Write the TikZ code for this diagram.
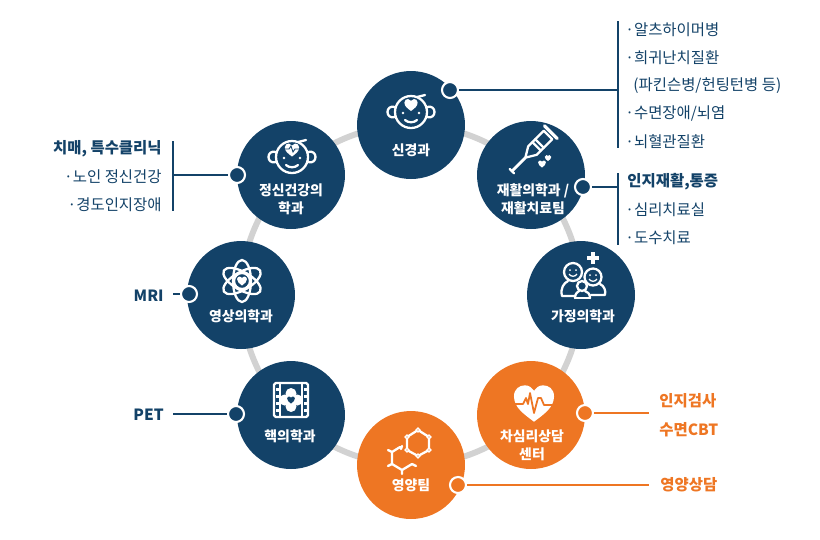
\documentclass[tikz,border=0pt]{standalone}
\usepackage{fontspec}
\setmainfont{Noto Sans CJK KR}
\definecolor{navy}{HTML}{134268}
\definecolor{tangerine}{HTML}{EE7623}
\definecolor{ringgray}{HTML}{D2D2D2}
\tikzset{
  dept/.style = {circle, minimum size = 2.16cm, inner sep = 0pt},
  navydept/.style = {dept, fill = navy},
  orangedept/.style = {dept, fill = tangerine},
  deptlabel/.style = {text = white, align = center, font = \fontsize{7.9}{10.2}\selectfont\bfseries, inner sep = 0pt},
  navydot/.style = {circle, minimum size = 0.32cm, inner sep = 0pt, draw = white, line width = 1.2pt, fill = navy},
  orangedot/.style = {navydot, fill = tangerine},
  navyline/.style = {draw = navy, line width = 1.15pt},
  orangeline/.style = {draw = tangerine, line width = 1.15pt},
  item/.style = {text = navy, inner sep = 0pt, anchor = west, font = \fontsize{8.8}{10}\selectfont},
  leftitem/.style = {item, anchor = east},
  bolditem/.style = {font = \fontsize{8.8}{10}\selectfont\bfseries},
  orangeitem/.style = {item, text = tangerine, font = \fontsize{8.8}{10}\selectfont\bfseries},
  icon/.style = {draw = white, line width = 1.3pt, line cap = round, line join = round},
  heartshape/.pic = {
    \path[pic actions] (0,1) .. controls (-.6,.55) and (-1.1,.2) .. (-1.1,-.4)
      .. controls (-1.1,-.8) and (-.8,-1) .. (-.5,-1)
      .. controls (-.25,-1) and (-.1,-.85) .. (0,-.7)
      .. controls (.1,-.85) and (.25,-1) .. (.5,-1)
      .. controls (.8,-1) and (1.1,-.8) .. (1.1,-.4)
      .. controls (1.1,.2) and (.6,.55) .. (0,1) -- cycle;
  },
  faceicon/.pic = {
    \draw[icon] (0,0) circle [radius = 16];
    \draw[icon] (-16,-5) .. controls (-26,-8) and (-26,8) .. (-16,5);
    \draw[icon] (16,-5) .. controls (26,-8) and (26,8) .. (16,5);
    \draw[icon] (-6,8) .. controls (-3,11) and (3,11) .. (6,8);
    \draw[icon] (6,-15) -- (14,-17);
    \fill[white] (-8,1) circle [radius = 1.3];
    \fill[white] (8,1) circle [radius = 1.3];
  }
}
\begin{document}
\begin{tikzpicture}[x = 0.02cm, y = -0.02cm]
\useasboundingbox (0,0) rectangle (820,539);
\coordinate (hub) at (411,295);
\draw[ringgray, line width = 3.4pt] (hub) circle [radius = 170];
% departments
\node[navydept] (neuro) at (411,125) {};
\node[navydept] (rehab) at (531,175) {};
\node[navydept] (family) at (581,295) {};
\node[orangedept] (psych) at (531,415) {};
\node[orangedept] (diet) at (411,465) {};
\node[navydept] (nuclear) at (291,415) {};
\node[navydept] (imaging) at (241,295) {};
\node[navydept] (mental) at (291,175) {};
\node[deptlabel] (neurolabel) at (411,150) {신경과};
\node[deptlabel] (rehablabel) at (533,199) {재활의학과 /\\재활치료팀};
\node[deptlabel] (familylabel) at (583,316) {가정의학과};
\node[deptlabel] (psychlabel) at (532,445) {차심리상담\\센터};
\node[deptlabel] (dietlabel) at (411,485) {영양팀};
\node[deptlabel] (nuclearlabel) at (290,436) {핵의학과};
\node[deptlabel] (imaginglabel) at (241,316) {영상의학과};
\node[deptlabel] (mentallabel) at (291,199) {정신건강의\\학과};
% icons
\pic at (411,112) {faceicon};
\pic[fill = white, scale = 6] at (411,105) {heartshape};
\pic at (292,157) {faceicon};
\pic[fill = white, scale = 6.5] at (292,150) {heartshape};
\draw[navy, line width = 0.5pt] (285,149) -- (289,149) -- (291,146) -- (293,152) -- (295,149) -- (299,149);
\begin{scope}[shift = {(531,152)}, rotate = 45]
\draw[icon, line width = 1.6pt] (-27,0) -- (-8,0);
\draw[icon] (-27,-3) -- (-27,3);
\draw[icon] (-8,0) -- (2,-6) -- (24,-6) -- (24,6) -- (2,6) -- cycle;
\draw[icon] (8,-6) -- (8,6) (12,-6) -- (12,6);
\draw[icon, line width = 1.8pt] (28,-9) -- (28,9);
\end{scope}
\pic[fill = white, scale = 3] at (548,158) {heartshape};
\pic[fill = white, scale = 3.5] at (542,164) {heartshape};
\draw[icon] (573,272) circle [radius = 9];
\draw[icon] (593,277) circle [radius = 8.5];
\draw[icon] (582,286) circle [radius = 5];
\draw[icon] (575,296) -- (562,296) .. controls (560,288) and (564,283) .. (568,281);
\draw[icon] (600,284) .. controls (604,286) and (606,290) .. (605,295) -- (591,295);
\draw[icon] (575,298) .. controls (575,293) and (578,292) .. (579,291);
\draw[icon] (590,298) .. controls (590,293) and (587,292) .. (585,291);
\draw[icon] (575,298) -- (590,298);
\draw[white, line width = 0.7pt] (569,274) .. controls (571,277) and (575,277) .. (577,274);
\draw[white, line width = 0.7pt] (589,279) .. controls (591,282) and (595,282) .. (597,279);
\fill[white] (570,270) circle [radius = 1] (576,270) circle [radius = 1] (590,275) circle [radius = 1] (596,275) circle [radius = 1];
\draw[white, line width = 2.6pt] (593,252) -- (593,264) (587,258) -- (599,258);
\draw[icon, rotate around = {30:(242,281)}] (242,281) ellipse [x radius = 21, y radius = 9];
\draw[icon, rotate around = {90:(242,281)}] (242,281) ellipse [x radius = 21, y radius = 9];
\draw[icon, rotate around = {150:(242,281)}] (242,281) ellipse [x radius = 21, y radius = 9];
\fill[navy] (242,281) circle [radius = 8];
\draw[icon] (242,281) circle [radius = 8];
\pic[fill = white, scale = 4.5] at (242,281) {heartshape};
\draw[icon, rounded corners = 1pt] (274,383) rectangle (308,417);
\draw[icon] (280,383) -- (280,417) (302,383) -- (302,417);
\foreach \yy in {388,395,402,409}{
  \fill[white] (275.5,\yy) rectangle +(3,3);
  \fill[white] (303.5,\yy) rectangle +(3,3);
}
\fill[white] (284.5,400) circle [radius = 5.5] (297.5,400) circle [radius = 5.5]
  (291,393.5) circle [radius = 5.5] (291,406.5) circle [radius = 5.5] (291,400) circle [radius = 6];
\pic[fill = navy, scale = 3.5] at (291,400) {heartshape};
\pic[fill = white, scale = 18.2] at (534,403.5) {heartshape};
\draw[tangerine, line width = 1pt, line join = round] (513,404) -- (523,404) -- (526,398) -- (528,404) -- (530,393) -- (534,413) -- (538,398) -- (541,398) -- (544,405) -- (556,405);
\draw[icon] (418,430) -- (429,437) -- (429,450) -- (418,456) -- (407,450) -- (407,437) -- cycle;
\foreach \xx/\yy in {418/430, 429/437, 429/450, 418/456, 407/450, 407/437}{
  \filldraw[fill = tangerine, draw = white, line width = 0.8pt] (\xx,\yy) circle [radius = 1.8];
}
\draw[icon] (392,452) -- (392,464) -- (402,470) -- (412,464);
\draw[icon] (388,450) -- (392,452) -- (400,447) (402,446) -- (401,449)
  (388,466) -- (392,464) (402,470) -- (402,474) (412,464) -- (416,466);
% dots
\node[navydot] (neurodot) at (450,90) {};
\node[navydot] (rehabdot) at (583,187) {};
\node[navydot] (mentaldot) at (237,175) {};
\node[navydot] (imagingdot) at (189,294) {};
\node[navydot] (nucleardot) at (236,414) {};
\node[orangedot] (psychdot) at (585,413) {};
\node[orangedot] (dietdot) at (458,485) {};
% connectors
\coordinate (neurojoint) at (618,90);
\coordinate (neurotop) at (618,21);
\coordinate (neurobottom) at (618,148);
\coordinate (rehabjoint) at (618,187);
\coordinate (rehabtop) at (618,173);
\coordinate (rehabbottom) at (618,245);
\coordinate (mentaljoint) at (173,175);
\coordinate (mentaltop) at (173,141);
\coordinate (mentalbottom) at (173,211);
\coordinate (imagingend) at (173,294);
\coordinate (nuclearend) at (173,414);
\coordinate (psychend) at (649,413);
\coordinate (dietend) at (649,485);
\draw[navyline] (neurodot) -- (neurojoint);
\draw[navyline] (neurotop) -- (neurobottom);
\draw[navyline] (rehabdot) -- (rehabjoint);
\draw[navyline] (rehabtop) -- (rehabbottom);
\draw[navyline] (mentaldot) -- (mentaljoint);
\draw[navyline] (mentaltop) -- (mentalbottom);
\draw[navyline] (imagingdot) -- (imagingend);
\draw[navyline] (nucleardot) -- (nuclearend);
\draw[orangeline] (psychdot) -- (psychend);
\draw[orangeline] (dietdot) -- (dietend);
% lists
\node[item] (alz) at (625,29.5) {·알츠하이머병};
\node[item] (rare) at (625,57.5) {·희귀난치질환};
\node[item] (park) at (633,85.5) {(파킨슨병/헌팅턴병 등)};
\node[item] (sleep) at (625,113.5) {·수면장애/뇌염};
\node[item] (vessel) at (625,141.5) {·뇌혈관질환};
\node[item, bolditem] (cogn) at (627,181.5) {인지재활,통증};
\node[item] (thera) at (625,209.5) {·심리치료실};
\node[item] (manual) at (625,237.5) {·도수치료};
\node[leftitem, bolditem] (clinic) at (162,148.5) {치매, 특수클리닉};
\node[leftitem] (aged) at (162,176.5) {·노인 정신건강};
\node[leftitem] (mild) at (162,204.5) {·경도인지장애};
\node[leftitem, bolditem] (mri) at (164,295.5) {MRI};
\node[leftitem, bolditem] (pet) at (164,414.5) {PET};
\node[orangeitem] (test) at (659,400.5) {인지검사};
\node[orangeitem] (cbt) at (659,429.5) {수면CBT};
\node[orangeitem] (consult) at (660,484.5) {영양상담};
\end{tikzpicture}
\end{document}
